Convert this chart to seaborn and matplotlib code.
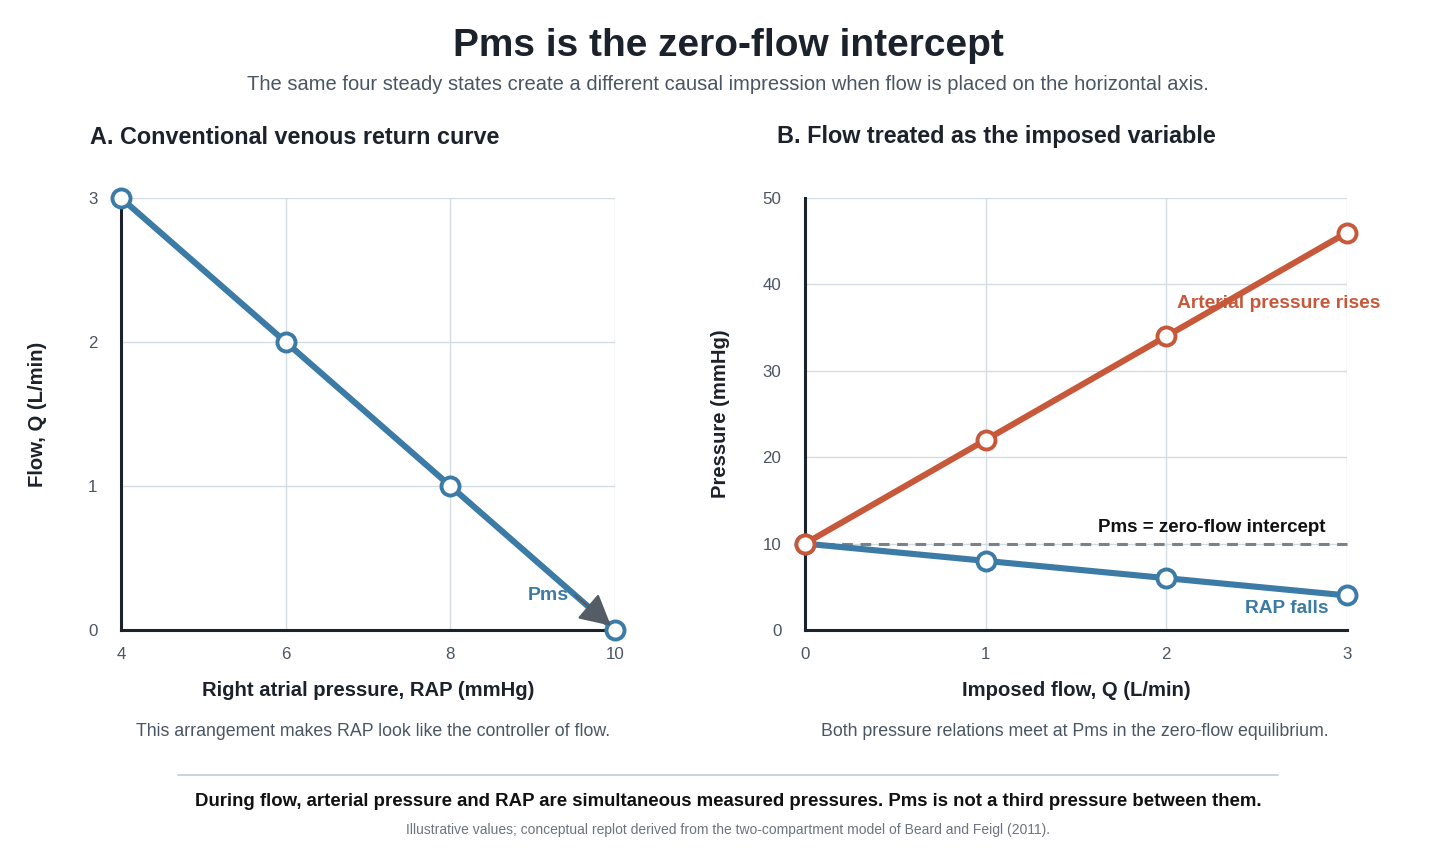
import matplotlib
matplotlib.use("Agg")
import matplotlib.pyplot as plt
import seaborn as sns
import pandas as pd

# ---- data ----
rap_a = [4, 6, 8, 10]
flow_a = [3, 2, 1, 0]
flow_b = [0, 1, 2, 3]
arterial_b = [10, 22, 34, 46]
rap_b = [10, 8, 6, 4]
pms_value = 10
xticks_a = [4, 6, 8, 10]
yticks_a = [0, 1, 2, 3]
xticks_b = [0, 1, 2, 3]
yticks_b = [0, 10, 20, 30, 40, 50]

sns.set_theme(style="white")
plt.rcParams['font.family'] = ['Liberation Sans', 'DejaVu Sans']

BLUE = "#3b7ba6"
ORANGE = "#c8583a"
DARK = "#1b222c"
GRAY = "#4a5563"
GRID = "#d3dce2"

fig = plt.figure(figsize=(14.56, 8.49), dpi=100)
fig.patch.set_facecolor("white")

axA = fig.add_axes([121/1456, 1-630/849, 494/1456, 432/849])
axB = fig.add_axes([805/1456, 1-630/849, 542/1456, 432/849])

line_kw = dict(marker="o", markersize=13, markerfacecolor="white",
               markeredgewidth=2.8, linewidth=4.4)

dfA = pd.DataFrame({"rap": rap_a, "flow": flow_a})
sns.lineplot(data=dfA, x="rap", y="flow", ax=axA, color=BLUE,
             markeredgecolor=BLUE, **line_kw)

dfB = pd.DataFrame({"q": flow_b, "art": arterial_b, "rap": rap_b})
axB.plot([0, 3], [pms_value, pms_value], ls=(0, (3.5, 2.5)), color="#7b818b",
         lw=2.2, zorder=1.5)
sns.lineplot(data=dfB, x="q", y="rap", ax=axB, color=BLUE,
             markeredgecolor=BLUE, **line_kw)
sns.lineplot(data=dfB, x="q", y="art", ax=axB, color=ORANGE,
             markeredgecolor=ORANGE, **line_kw)

for ax, xt, yt in [(axA, xticks_a, yticks_a), (axB, xticks_b, yticks_b)]:
    for ln in ax.lines:
        ln.set_clip_on(False)
    ax.set_xlim(xt[0], xt[-1])
    ax.set_ylim(yt[0], yt[-1])
    ax.set_xticks(xt)
    ax.set_yticks(yt)
    ax.grid(True, color=GRID, lw=1.0)
    ax.set_axisbelow(True)
    for s in ["top", "right"]:
        ax.spines[s].set_visible(False)
    for s in ["left", "bottom"]:
        ax.spines[s].set_color(DARK)
        ax.spines[s].set_linewidth(2.2)
        ax.spines[s].set_zorder(1.8)
    ax.tick_params(axis="both", length=0, labelsize=12.2, labelcolor=GRAY)
    ax.tick_params(axis="y", pad=17)
    ax.tick_params(axis="x", pad=12)

axA.set_xlabel("Right atrial pressure, RAP (mmHg)", fontsize=14.6, fontweight="bold",
               color=DARK)
axA.set_ylabel("Flow, Q (L/min)", fontsize=14.6, fontweight="bold", color=DARK)
axB.set_xlabel("Imposed flow, Q (L/min)", fontsize=14.6, fontweight="bold", color=DARK)
axB.set_ylabel("Pressure (mmHg)", fontsize=14.6, fontweight="bold", color=DARK)
axA.xaxis.set_label_coords(0.5, (630-691)/432)
axB.xaxis.set_label_coords(0.5, (630-691)/432)
axA.yaxis.set_label_coords((38-121)/494, 0.5)
axB.yaxis.set_label_coords((721-805)/542, 0.5)
for lab in [axA.xaxis.label, axB.xaxis.label, axA.yaxis.label, axB.yaxis.label]:
    lab.set_va("center")

# Panel A annotation
axA.text(9.19, 0.24, "Pms", color=BLUE, fontsize=14, fontweight="bold",
         ha="center", va="center")
axA.annotate("", xy=(9.95, 0.03), xytext=(9.52, 0.24),
             arrowprops=dict(arrowstyle="-|>,head_length=1.6,head_width=0.85",
                             color="#545c66", lw=1.6, shrinkA=0, shrinkB=0),
             annotation_clip=False, zorder=5)

# Panel B annotations
axB.text(2.06, 37.8, "Arterial pressure rises", color=ORANGE, fontsize=13.9,
         fontweight="bold", ha="left", va="center")
axB.text(2.88, 11.9, "Pms = zero-flow intercept", color="#111111", fontsize=13.5,
         fontweight="bold", ha="right", va="center")
axB.text(2.9, 2.5, "RAP falls", color=BLUE, fontsize=13.8, fontweight="bold",
         ha="right", va="center")

# Titles
fig.text(0.5, 1-46/849, "Pms is the zero-flow intercept", ha="center", va="center",
         fontsize=28, fontweight="bold", color=DARK)
fig.text(0.5, 1-84/849,
         "The same four steady states create a different causal impression when flow is placed on the horizontal axis.",
         ha="center", va="center", fontsize=14.5, color=GRAY)
fig.text(90/1456, 1-137/849, "A. Conventional venous return curve", ha="left",
         va="center", fontsize=16.8, fontweight="bold", color=DARK)
fig.text(777/1456, 1-137/849, "B. Flow treated as the imposed variable", ha="left",
         va="center", fontsize=16.8, fontweight="bold", color=DARK)

fig.text(373/1456, 1-731/849, "This arrangement makes RAP look like the controller of flow.",
         ha="center", va="center", fontsize=12.8, color=GRAY)
fig.text(1075/1456, 1-731/849, "Both pressure relations meet at Pms in the zero-flow equilibrium.",
         ha="center", va="center", fontsize=12.8, color=GRAY)

fig.add_artist(plt.Line2D([178/1456, 1278/1456], [1-775/849, 1-775/849],
                          color="#c3d2d8", lw=1.3, transform=fig.transFigure))
fig.text(0.5, 1-802/849,
         "During flow, arterial pressure and RAP are simultaneous measured pressures. Pms is not a third pressure between them.",
         ha="center", va="center", fontsize=13.4, fontweight="bold", color="#111111")
fig.text(0.5, 1-830/849,
         "Illustrative values; conceptual replot derived from the two-compartment model of Beard and Feigl (2011).",
         ha="center", va="center", fontsize=10, color="#6b7480")

fig.savefig("out.png", dpi=100, facecolor="white")
